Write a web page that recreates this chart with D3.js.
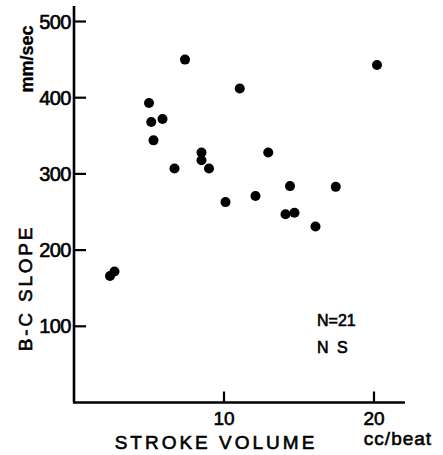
<!DOCTYPE html>
<html>
<head>
<meta charset="utf-8">
<script src="https://cdn.jsdelivr.net/npm/d3@7"></script>
<style>
  html, body { margin: 0; padding: 0; background: #fff; }
  svg { display: block; }
  text { font-family: "Liberation Sans", Arial, sans-serif; fill: #000; stroke: #000; stroke-width: 0.6px; }
</style>
</head>
<body>
<svg id="chart" width="443" height="455"></svg>
<script>
// Stroke volume (cc/beat) against B-C slope (mm/sec), one point per subject
const strokeVolume = [7.4, 5.0, 5.15, 5.9, 5.3, 6.7, 8.5, 8.5, 9.0,
                      20.2, 11.05, 12.95, 14.4, 17.45, 12.1, 10.1, 14.1, 14.7,
                      16.1, 2.4, 2.7];
const bcSlope = [450, 393, 368, 372, 344, 307, 328, 318, 307,
                 443, 412, 328, 284, 283, 271, 263, 247, 249,
                 231, 166, 172];
const xTicks = [10, 20];
const yTicks = [100, 200, 300, 400, 500];

const svg = d3.select("#chart");

const x = d3.scaleLinear().domain([0, 22]).range([74, 404]);
const y = d3.scaleLinear().domain([0, 500]).range([402.5, 21.5]);

// Axes: ticks point inward, labels drawn separately
const yAxis = svg.append("g").attr("transform", `translate(${x(0)},0)`);
yAxis.append("line")
  .attr("x1", 0).attr("x2", 0)
  .attr("y1", y(0)).attr("y2", 6)
  .attr("stroke", "#000").attr("stroke-width", 2.6);
yAxis.selectAll("line.tick").data(yTicks).join("line")
  .attr("class", "tick")
  .attr("x1", 0).attr("x2", 12)
  .attr("y1", d => y(d)).attr("y2", d => y(d))
  .attr("stroke", "#000").attr("stroke-width", 2.2);
yAxis.selectAll("text").data(yTicks).join("text")
  .attr("x", -3).attr("y", d => y(d) + 7)
  .attr("text-anchor", "end")
  .attr("font-size", 20)
  .attr("letter-spacing", -0.5)
  .text(d => d);

const xAxis = svg.append("g").attr("transform", `translate(0,${y(0)})`);
xAxis.append("line")
  .attr("x1", x(0) - 1).attr("x2", 405)
  .attr("y1", 0).attr("y2", 0)
  .attr("stroke", "#000").attr("stroke-width", 2.6);
xAxis.selectAll("line.tick").data(xTicks).join("line")
  .attr("class", "tick")
  .attr("x1", d => x(d)).attr("x2", d => x(d))
  .attr("y1", 0).attr("y2", -11)
  .attr("stroke", "#000").attr("stroke-width", 2.2);
xAxis.selectAll("text").data(xTicks).join("text")
  .attr("x", d => x(d)).attr("y", 22)
  .attr("text-anchor", "middle")
  .attr("font-size", 19)
  .text(d => d);

// Axis titles
svg.append("text")
  .attr("transform", "translate(33,59) rotate(-90)")
  .attr("text-anchor", "middle")
  .attr("font-size", 18).attr("font-weight", "bold")
  .style("stroke-width", "0.3px")
  .text("mm/sec");
svg.append("text")
  .attr("transform", "translate(32,288) rotate(-90)")
  .attr("text-anchor", "middle")
  .attr("font-size", 19).attr("letter-spacing", 2.8)
  .text("B-C  SLOPE");
svg.append("text")
  .attr("x", 216).attr("y", 449)
  .attr("text-anchor", "middle")
  .attr("font-size", 19).attr("letter-spacing", 3)
  .text("STROKE VOLUME");
svg.append("text")
  .attr("x", 398).attr("y", 445)
  .attr("text-anchor", "middle")
  .attr("font-size", 19).attr("letter-spacing", 1)
  .text("cc/beat");

// Annotations
svg.append("text")
  .attr("x", 317).attr("y", 326)
  .attr("font-size", 16)
  .text("N=21");
svg.append("text")
  .attr("x", 317).attr("y", 353)
  .attr("font-size", 16).attr("letter-spacing", 2)
  .text("N S");

// Data points
svg.append("g").selectAll("circle")
  .data(d3.range(strokeVolume.length))
  .join("circle")
  .attr("cx", i => x(strokeVolume[i]))
  .attr("cy", i => y(bcSlope[i]))
  .attr("r", 5)
  .attr("fill", "#000")
  .attr("stroke", "none");
</script>
</body>
</html>
